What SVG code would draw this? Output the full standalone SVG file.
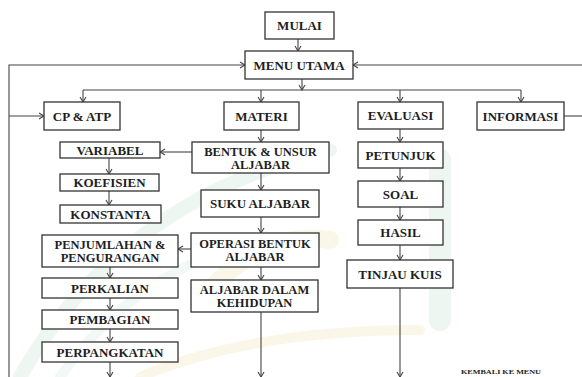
<svg xmlns="http://www.w3.org/2000/svg" width="582" height="377" viewBox="0 0 582 377">
<style>
.b{fill:#fff;stroke:#333;stroke-width:1.3}
.t{font-family:"Liberation Serif","Times New Roman",serif;font-weight:bold;font-size:13px;fill:#1e1e1e;text-anchor:middle}
.t2{font-size:12.5px}
.c{fill:none;stroke:#444;stroke-width:1.1}
.s{font-family:"Liberation Serif","Times New Roman",serif;font-weight:bold;font-size:7px;fill:#222}
.w{fill:none;stroke-linecap:round}
</style>
<defs>
<marker id="a" markerWidth="8" markerHeight="8" refX="6" refY="4" orient="auto" markerUnits="userSpaceOnUse">
<path d="M1,1 L6,4 L1,7" fill="none" stroke="#444" stroke-width="1.1"/>
</marker>
</defs>
<rect width="582" height="377" fill="#fff"/>
<g id="watermark" opacity="0.35">
<path class="w" d="M20,377 Q120,200 330,150" stroke="#cfe6dc" stroke-width="14"/>
<path class="w" d="M60,377 Q150,250 300,235" stroke="#d9ece3" stroke-width="10"/>
<path class="w" d="M200,300 Q260,230 330,240" stroke="#f3e6bf" stroke-width="18"/>
<path class="w" d="M440,160 V320" stroke="#cfe6dc" stroke-width="22"/>
<path class="w" d="M140,377 Q250,330 420,330" stroke="#f3e6bf" stroke-width="10"/>
</g>
<g id="connectors" class="c">
<path d="M298,39 V51" marker-end="url(#a)"/>
<path d="M9,377 V65 H245" marker-end="url(#a)"/>
<path d="M9,116 H44" marker-end="url(#a)"/>
<path d="M582,65 H353" marker-end="url(#a)"/>
<path d="M564,116 H582"/>
<path d="M302,79 V90" marker-end="url(#a)"/>
<path d="M83,90 H521"/>
<path d="M83,90 V102" marker-end="url(#a)"/>
<path d="M261,90 V102" marker-end="url(#a)"/>
<path d="M400,90 V102" marker-end="url(#a)"/>
<path d="M521,90 V102" marker-end="url(#a)"/>
<path d="M261,130 V142" marker-end="url(#a)"/>
<path d="M192,152 H160" marker-end="url(#a)"/>
<path d="M109,158 V174" marker-end="url(#a)"/>
<path d="M109,191 V205" marker-end="url(#a)"/>
<path d="M261,173 V190" marker-end="url(#a)"/>
<path d="M261,217 V233" marker-end="url(#a)"/>
<path d="M191,249 H178" marker-end="url(#a)"/>
<path d="M261,267 V280" marker-end="url(#a)"/>
<path d="M261,312 V377" marker-end="url(#a)"/>
<path d="M110,267 V278" marker-end="url(#a)"/>
<path d="M110,298 V310" marker-end="url(#a)"/>
<path d="M110,329 V342" marker-end="url(#a)"/>
<path d="M110,362 V377" marker-end="url(#a)"/>
<path d="M400,129 V142" marker-end="url(#a)"/>
<path d="M400,168 V181" marker-end="url(#a)"/>
<path d="M400,207 V220" marker-end="url(#a)"/>
<path d="M400,245 V260" marker-end="url(#a)"/>
<path d="M400,288 V377" marker-end="url(#a)"/>
</g>
<g id="mulai"><rect class="b" x="265" y="12" width="69" height="27"/><text class="t" x="299.5" y="30">MULAI</text></g>
<g id="menu"><rect class="b" x="245" y="51" width="108" height="28"/><text class="t" x="299" y="69.5">MENU UTAMA</text></g>
<g id="cpatp"><rect class="b" x="44" y="102" width="76" height="28"/><text class="t" x="82" y="120.5">CP &amp; ATP</text></g>
<g id="materi"><rect class="b" x="224" y="102" width="75" height="28"/><text class="t" x="261.5" y="120.5">MATERI</text></g>
<g id="evaluasi"><rect class="b" x="358" y="102" width="85" height="27"/><text class="t" x="400.5" y="120">EVALUASI</text></g>
<g id="informasi"><rect class="b" x="477" y="102" width="87" height="28"/><text class="t" x="520.5" y="120.5">INFORMASI</text></g>
<g id="bentuk"><rect class="b" x="192" y="142" width="137" height="31"/><text class="t t2" x="260.5" y="156">BENTUK &amp; UNSUR</text><text class="t t2" x="260.5" y="169">ALJABAR</text></g>
<g id="variabel"><rect class="b" x="60" y="142" width="100" height="16"/><text class="t" x="110" y="154.5">VARIABEL</text></g>
<g id="koefisien"><rect class="b" x="60" y="174" width="99" height="17"/><text class="t" x="109.5" y="187">KOEFISIEN</text></g>
<g id="konstanta"><rect class="b" x="60" y="205" width="101" height="18"/><text class="t" x="110.5" y="218.5">KONSTANTA</text></g>
<g id="suku"><rect class="b" x="201" y="190" width="118" height="27"/><text class="t" x="260" y="208">SUKU ALJABAR</text></g>
<g id="operasi"><rect class="b" x="191" y="233" width="128" height="34"/><text class="t t2" x="255" y="247.5">OPERASI BENTUK</text><text class="t t2" x="255" y="260.5">ALJABAR</text></g>
<g id="kehidupan"><rect class="b" x="191" y="280" width="127" height="32"/><text class="t t2" x="254.5" y="293.5">ALJABAR DALAM</text><text class="t t2" x="254.5" y="306.5">KEHIDUPAN</text></g>
<g id="penjumlahan"><rect class="b" x="42" y="235" width="136" height="32"/><text class="t t2" x="110" y="248.5">PENJUMLAHAN &amp;</text><text class="t t2" x="110" y="261.5">PENGURANGAN</text></g>
<g id="perkalian"><rect class="b" x="42" y="278" width="136" height="20"/><text class="t" x="110" y="292.5">PERKALIAN</text></g>
<g id="pembagian"><rect class="b" x="42" y="310" width="136" height="19"/><text class="t" x="110" y="324">PEMBAGIAN</text></g>
<g id="perpangkatan"><rect class="b" x="42" y="342" width="136" height="20"/><text class="t" x="110" y="356.5">PERPANGKATAN</text></g>
<g id="petunjuk"><rect class="b" x="358" y="142" width="85" height="26"/><text class="t" x="400.5" y="159.5">PETUNJUK</text></g>
<g id="soal"><rect class="b" x="358" y="181" width="85" height="26"/><text class="t" x="400.5" y="198.5">SOAL</text></g>
<g id="hasil"><rect class="b" x="358" y="220" width="85" height="25"/><text class="t" x="400.5" y="237">HASIL</text></g>
<g id="tinjau"><rect class="b" x="347" y="260" width="106" height="28"/><text class="t" x="400" y="278.5">TINJAU KUIS</text></g>
<text class="s" x="461" y="374" textLength="80" lengthAdjust="spacingAndGlyphs">KEMBALI KE MENU</text>
</svg>
